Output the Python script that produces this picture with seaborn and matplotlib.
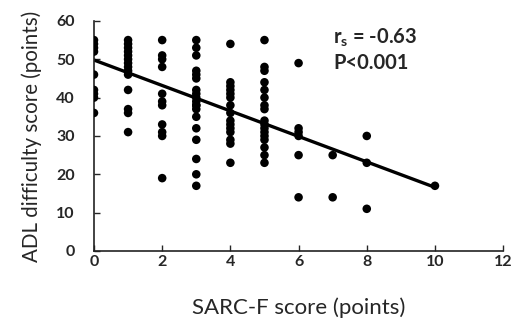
import matplotlib
matplotlib.use("Agg")
import matplotlib.pyplot as plt
import seaborn as sns
import pandas as pd
import numpy as np

sarc_f = ([0] * 9 + [1] * 14 + [2] * 11 + [3] * 19 + [4] * 15 + [5] * 17
          + [6] * 6 + [7] * 2 + [8] * 3 + [10])
adl = (
    [55, 54, 53, 52, 46, 42, 41, 40, 36]
    + [55, 54, 53, 52, 51, 50, 49, 48, 47, 46, 42, 37, 36, 31]
    + [55, 51, 50, 48, 41, 39, 38, 33, 31, 30, 19]
    + [55, 53, 51, 47, 46, 45, 42, 41, 40, 39, 38, 38, 37, 35, 32, 29, 24, 20, 17]
    + [54, 44, 43, 42, 41, 40, 38, 36, 34, 33, 32, 31, 29, 28, 23]
    + [55, 48, 47, 44, 42, 40, 38, 37, 34, 33, 32, 31, 30, 29, 27, 25, 23]
    + [49, 32, 31, 30, 25, 14]
    + [25, 14]
    + [30, 23, 11]
    + [17]
)
# trend line as drawn in the reference (intercept, slope)
fit_intercept = 49.8
fit_slope = -3.32
x_ticks = [0, 2, 4, 6, 8, 10, 12]
y_ticks = [0, 10, 20, 30, 40, 50, 60]

df = pd.DataFrame({"SARC-F": sarc_f, "ADL": adl})

sns.set_style("ticks")
plt.rcParams["font.family"] = ["Lato", "DejaVu Sans"]

fig = plt.figure(figsize=(5.15, 3.32), dpi=100)
ax = fig.add_axes([0.1825, 0.244, 0.7945, 0.693])

sns.scatterplot(data=df, x="SARC-F", y="ADL", ax=ax, s=38,
                color="black", edgecolor="none", zorder=3)
xs = np.array([min(sarc_f), max(sarc_f)])
sns.lineplot(x=xs, y=fit_intercept + fit_slope * xs, ax=ax,
             color="black", lw=2.4, zorder=2)

ax.set_xlim(0, 12)
ax.set_ylim(0, 60)
ax.set_xticks(x_ticks)
ax.set_yticks(y_ticks)
ax.tick_params(direction="in", length=4, width=1, labelsize=11.5)
ax.tick_params(axis="x", pad=3)
ax.tick_params(axis="y", pad=14)
for lab in ax.get_xticklabels() + ax.get_yticklabels():
    lab.set_fontweight("bold")
for sp in ["top", "right"]:
    ax.spines[sp].set_visible(False)
for sp in ["left", "bottom"]:
    ax.spines[sp].set_linewidth(1.2)
    ax.spines[sp].set_color("#222222")

ax.set_xlabel("SARC-F score (points)", fontsize=16, labelpad=20)
ax.set_ylabel("ADL difficulty score (points)", fontsize=14.8, labelpad=10)

ax.text(0.585, 0.925, r"r$_\mathregular{s}$ = -0.63", transform=ax.transAxes,
        fontsize=14.5, fontweight="bold", va="center")
ax.text(0.585, 0.815, "P<0.001", transform=ax.transAxes,
        fontsize=14.5, fontweight="bold", va="center")

fig.savefig("out.png", dpi=100)
